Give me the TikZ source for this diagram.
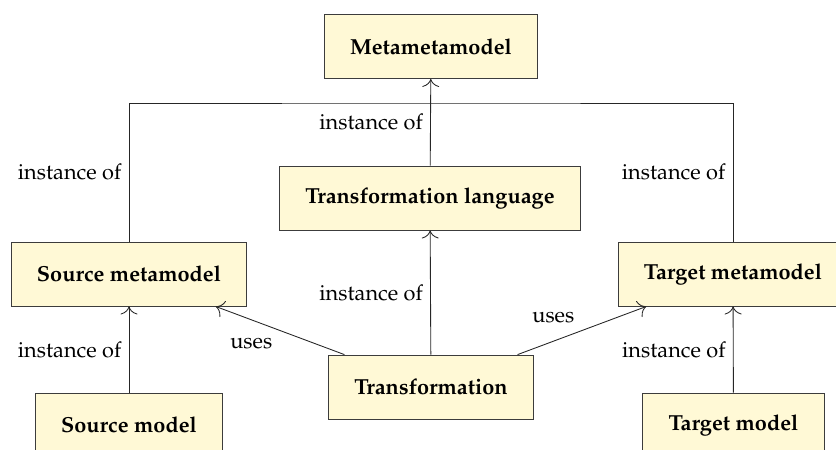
\documentclass[tikz,border=0pt]{standalone}
\usepackage[T1]{fontenc}
\usepackage{mathpazo}
\usetikzlibrary{positioning,arrows.meta}
\definecolor{boxfill}{RGB}{255,249,214}
\definecolor{boxline}{RGB}{60,60,60}
\tikzset{
  model/.style={draw=boxline, fill=boxfill, font=\bfseries,
    minimum height=29.4pt, inner xsep=11.8pt},
  rel/.style={-{To[scale=1.5]}, draw=black!85}
}
\begin{document}
\begin{tikzpicture}[x=0.46pt,y=-0.46pt]
  \useasboundingbox (0,0) rectangle (836,450);
  \clip (0,0) rectangle (836,450);

  % Models
  \node[model] (meta) at (431,46.5) {Metametamodel};
  \node[model] (tlang) at (430,198) {Transformation language};
  \node[model] (smeta) at (129,274) {Source metamodel};
  \node[model] (tmeta) at (733,274) {Target metamodel};
  \node[model] (trans) at (431,387) {Transformation};
  \node[model] (smodel) at (129,425) {Source model};
  \node[model] (tmodel) at (733.5,425) {Target model};

  \coordinate (join) at (431,103);

  % Relations
  \draw[rel] (tlang) -- node[left] {instance of} (meta);
  \draw[draw=black!85] (smeta) |- node[pos=0.25,left] {instance of} (join)
    -| node[pos=0.75,left] {instance of} (tmeta);
  \draw[rel] (trans) -- node[left] {instance of} (tlang);
  \draw[rel] (smodel) -- node[left] {instance of} (smeta);
  \draw[rel] (tmodel) -- node[left] {instance of} (tmeta);
  \draw[rel] (trans) -- node[below left] {uses} (smeta);
  \draw[rel] (trans) -- node[above left] {uses} (tmeta);
\end{tikzpicture}
\end{document}
